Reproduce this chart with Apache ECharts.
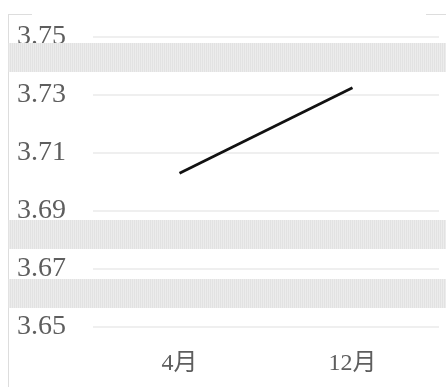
<!DOCTYPE html>
<html>
<head>
<meta charset="utf-8">
<script src="https://cdn.jsdelivr.net/npm/echarts@6/dist/echarts.min.js"></script>
<style>
    html, body { margin: 0; padding: 0; background: #fff; }
    #chart { width: 446px; height: 387px; }
</style>
</head>
<body>
<div id="chart"></div>
<script>
    // 数据
    const months = ['4月', '12月']
    const values = [3.703, 3.7325]
    const yTicks = [3.65, 3.67, 3.69, 3.71, 3.73, 3.75]

    // 竖条纹灰色填充
    function stripes () {
        const c = document.createElement('canvas')
        c.width = 4; c.height = 4
        const ctx = c.getContext('2d')
        ctx.fillStyle = '#ececec'
        ctx.fillRect(0, 0, 4, 4)
        ctx.fillStyle = '#e2e2e2'
        ctx.fillRect(0, 0, 1, 4)
        ctx.fillRect(2, 0, 1, 4)
        return { image: c, repeat: 'repeat' }
    }
    const pat = stripes()
    const band = (y, h) => ({ type: 'rect', z: 10, shape: { x: 8, y, width: 438, height: h }, style: { fill: pat } })
    const frame = { stroke: '#dddddd', lineWidth: 1 }

    const chart = echarts.init(document.getElementById('chart'))
    chart.setOption({
        animation: false,
        grid: { left: 93, right: 7, top: 37, bottom: 60 },
        xAxis: {
            type: 'category',
            data: months,
            boundaryGap: true,
            axisLine: { show: false },
            axisTick: { show: false },
            axisLabel: { color: '#5e5e5e', fontFamily: 'Liberation Serif, "Noto Sans CJK SC"', fontSize: 24, margin: 25 }
        },
        yAxis: {
            type: 'value',
            min: yTicks[0],
            max: yTicks[yTicks.length - 1],
            interval: 0.02,
            axisLine: { show: false },
            axisTick: { show: false },
            splitLine: { lineStyle: { color: '#eaeaea', width: 1.5 } },
            axisLabel: {
                color: '#5e5e5e', fontFamily: 'Liberation Serif', fontSize: 28,
                align: 'left', margin: 76,
                formatter: v => v.toFixed(2)
            }
        },
        series: [{
            type: 'line',
            data: values,
            symbol: 'none',
            lineStyle: { color: '#111', width: 2.7 }
        }],
        graphic: [
            band(43, 29),
            band(220, 29),
            band(279, 29),
            { type: 'line', shape: { x1: 8.5, y1: 14.5, x2: 8.5, y2: 387 }, style: frame },
            { type: 'line', shape: { x1: 8, y1: 14.5, x2: 32, y2: 14.5 }, style: frame },
            { type: 'line', shape: { x1: 426, y1: 14.5, x2: 446, y2: 14.5 }, style: frame }
        ]
    })
</script>
</body>
</html>
